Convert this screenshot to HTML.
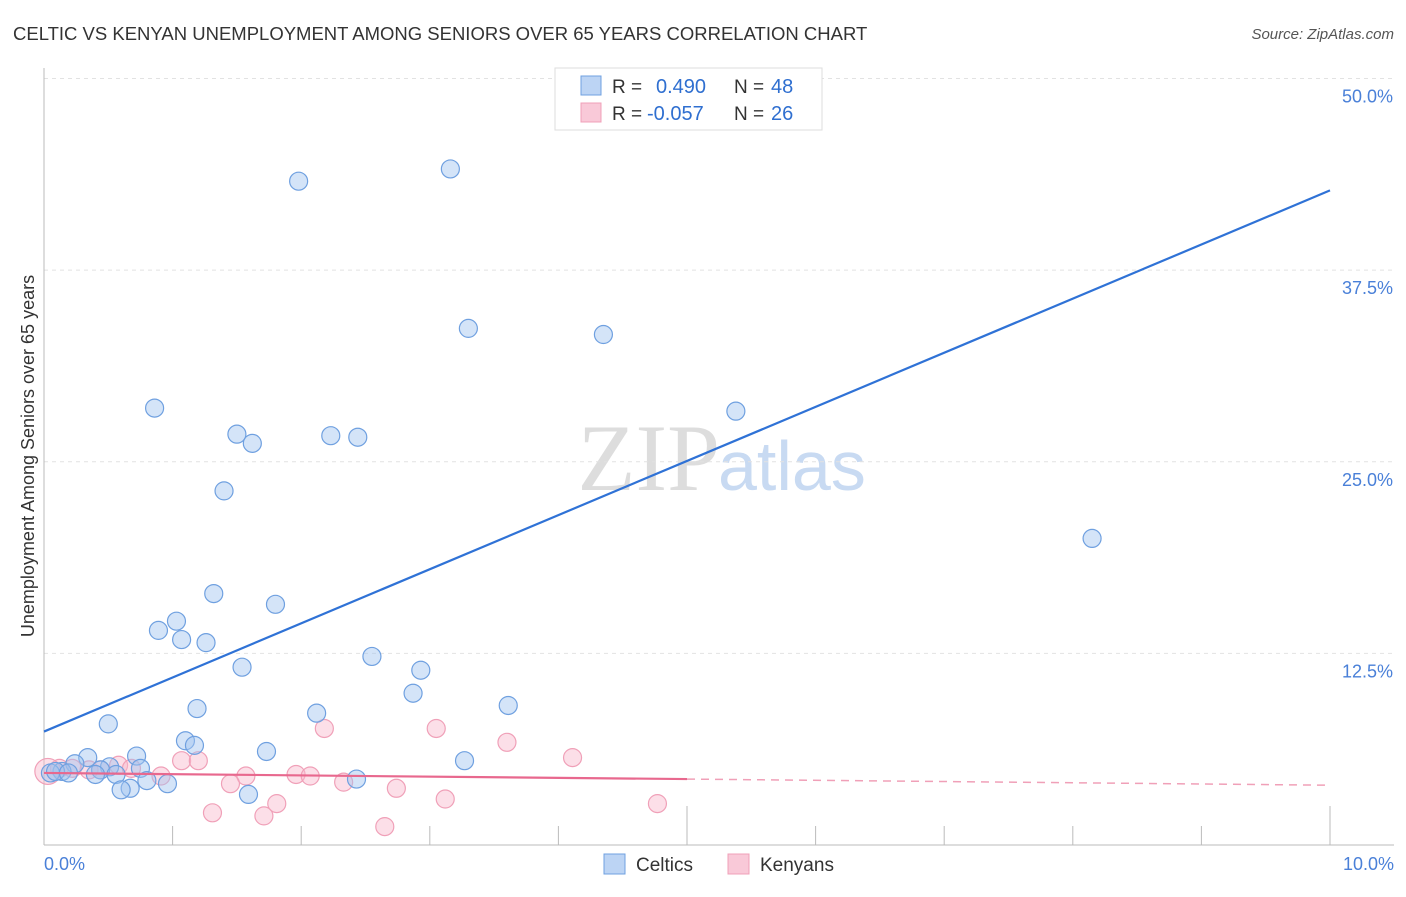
<!DOCTYPE html>
<html><head><meta charset="utf-8"><style>
body{margin:0;background:#fff;font-family:"Liberation Sans",sans-serif}
</style></head><body>
<svg id="c" width="1406" height="892" xmlns="http://www.w3.org/2000/svg" font-family="Liberation Sans, sans-serif">
<text x="13" y="40" font-size="18.5" fill="#333">CELTIC VS KENYAN UNEMPLOYMENT AMONG SENIORS OVER 65 YEARS CORRELATION CHART</text>
<text x="1394" y="39" font-size="15" fill="#555" font-style="italic" text-anchor="end">Source: ZipAtlas.com</text>
<text x="720" y="490" font-size="95" fill="#ddd" text-anchor="end" font-family="Liberation Serif, serif">ZIP</text>
<text x="718" y="490" font-size="70" fill="#c8daf2">atlas</text>
<text transform="translate(34,456) rotate(-90)" font-size="18" fill="#333" text-anchor="middle">Unemployment Among Seniors over 65 years</text>
<g id="grid"></g><g id="marks"></g>
<g>
<rect x="555" y="68" width="267" height="62" fill="#fff" stroke="#ddd"/>
<rect x="581" y="76" width="20" height="19" fill="#bcd4f4" stroke="#6fa0e0"/>
<rect x="581" y="103" width="20" height="19" fill="#f9c9d8" stroke="#f0a0b8"/>
<text x="612" y="93" font-size="19" fill="#333">R =</text>
<text x="656" y="93" font-size="20" fill="#2f6fd0">0.490</text>
<text x="734" y="93" font-size="19" fill="#333">N =</text>
<text x="771" y="93" font-size="20" fill="#2f6fd0">48</text>
<text x="612" y="120" font-size="19" fill="#333">R =</text>
<text x="647" y="120" font-size="20" fill="#2f6fd0">-0.057</text>
<text x="734" y="120" font-size="19" fill="#333">N =</text>
<text x="771" y="120" font-size="20" fill="#2f6fd0">26</text>
</g>
<g>
<rect x="604" y="854" width="21" height="20" fill="#bcd4f4" stroke="#6fa0e0"/>
<text x="636" y="871" font-size="19" fill="#333">Celtics</text>
<rect x="728" y="854" width="21" height="20" fill="#f9c9d8" stroke="#f0a0b8"/>
<text x="760" y="871" font-size="19" fill="#333">Kenyans</text>
</g>
</svg>
<script>
const celticX=[1.98,3.16,3.30,4.35,0.86,5.38,1.50,1.62,2.23,2.44,1.40,8.15,1.32,1.80,1.03,0.89,1.07,1.26,2.55,1.54,2.93,2.87,0.50,3.61,1.19,2.12,1.10,1.17,1.73,0.72,0.34,3.27,0.75,0.24,0.51,0.44,0.14,0.05,0.56,0.40,0.80,0.96,2.43,0.67,0.60,1.59,0.09,0.19];
const celticY=[43.3,44.1,33.7,33.3,28.5,28.3,26.8,26.2,26.7,26.6,23.1,20.0,16.4,15.7,14.6,14.0,13.4,13.2,12.3,11.6,11.4,9.9,7.9,9.1,8.9,8.6,6.8,6.5,6.1,5.8,5.7,5.5,5.0,5.3,5.1,4.9,4.8,4.7,4.6,4.6,4.2,4.0,4.3,3.7,3.6,3.3,4.8,4.7];
const kenyanX=[2.18,3.05,3.60,4.11,1.07,1.20,0.58,0.68,0.91,0.35,0.22,1.96,2.07,1.57,2.33,1.45,2.74,3.12,1.81,4.77,1.31,1.71,2.65,0.44,0.12,0.03];
const kenyanY=[7.6,7.6,6.7,5.7,5.5,5.5,5.2,5.0,4.5,4.9,5.0,4.6,4.5,4.5,4.1,4.0,3.7,3.0,2.7,2.7,2.1,1.9,1.2,4.9,5.0,4.8];
const yTicks=[12.5,25.0,37.5,50.0];
const celticTrend=[7.4,42.7];
const kenyanTrend=[4.7,3.9];
const X=v=>44+v*128.6, Y=v=>845-v*15.33;
const NS="http://www.w3.org/2000/svg";
function mk(p,t,a){const e=document.createElementNS(NS,t);for(const k in a)e.setAttribute(k,a[k]);p.appendChild(e);return e;}
const g=document.getElementById('grid'), m=document.getElementById('marks');
yTicks.forEach(t=>{
 const l=mk(g,'line',{x1:44,x2:1394,y1:Y(t),y2:Y(t),stroke:'#e2e2e2','stroke-dasharray':'4,4'});
 
 
 const tx=mk(g,'text',{x:1393,y:Y(t)+24,'font-size':18,fill:'#4a80d8','text-anchor':'end'});tx.textContent=t.toFixed(1)+'%';
 
 
});
mk(g,'line',{x1:44,x2:44,y1:68,y2:845,stroke:'#bbb'});
mk(g,'line',{x1:44,x2:1394,y1:845,y2:845,stroke:'#bbb'});
for(let i=1;i<=10;i++){const l=mk(g,'line',{x1:X(i),x2:X(i),y1:i==5||i==10?806:826,y2:845,stroke:'#bbb'});
 
 }
const x0=mk(g,'text',{x:44,y:870,'font-size':18,fill:'#4a80d8'});x0.textContent='0.0%';


const x1=mk(g,'text',{x:1394,y:870,'font-size':18,fill:'#4a80d8','text-anchor':'end'});x1.textContent='10.0%';


kenyanX.forEach((v,i)=>{const c=mk(m,'circle',{cx:X(v),cy:Y(kenyanY[i]),r:i==25?13:9,fill:'rgba(248,185,205,0.45)',stroke:'#f0a0b8','stroke-width':1.2});
 
 });
celticX.forEach((v,i)=>{const c=mk(m,'circle',{cx:X(v),cy:Y(celticY[i]),r:9,fill:'rgba(160,196,240,0.45)',stroke:'#6fa0e0','stroke-width':1.2});
 
 });
const bl=mk(m,'line',{x1:X(0),y1:Y(celticTrend[0]),x2:X(10),y2:Y(celticTrend[1]),stroke:'#2f72d6','stroke-width':2.2});


const kAt=v=>kenyanTrend[0]+(kenyanTrend[1]-kenyanTrend[0])*v/10;
const pl=mk(m,'line',{x1:X(0),y1:Y(kAt(0)),x2:X(5),y2:Y(kAt(5)),stroke:'#e8688e','stroke-width':2.2});


const pd=mk(m,'line',{x1:X(5),y1:Y(kAt(5)),x2:X(10),y2:Y(kAt(10)),stroke:'#f0a0b8','stroke-width':1.5,'stroke-dasharray':'8,6'});


</script>
</body></html>
